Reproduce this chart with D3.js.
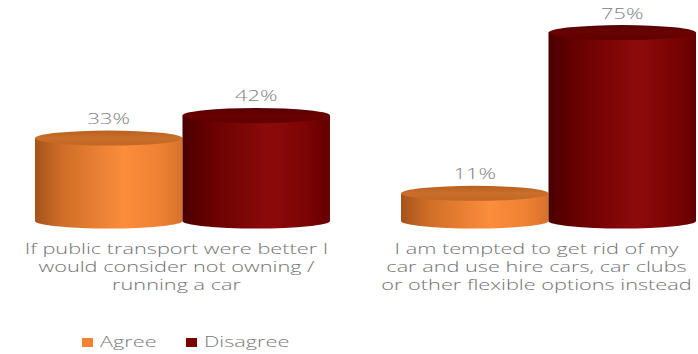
<!DOCTYPE html>
<html>
<head>
<meta charset="utf-8">
<script src="https://cdn.jsdelivr.net/npm/d3@7"></script>
<style>
  body { margin: 0; background: #fff; }
  svg text { font-family: "Open Sans", sans-serif; font-weight: 300; }
</style>
</head>
<body>
<svg width="698" height="354"></svg>
<script>
// survey answers, two statements, agree vs disagree (%)
const categoryLines = [
    ["If public transport were better I", "would consider not owning /", "running a car"],
    ["I am tempted to get rid of my", "car and use hire cars, car clubs", "or other flexible options instead"]
];
const categories = categoryLines.map(l => l.join(" "));
const series = ["Agree", "Disagree"];
const agreeValues = [33, 11];
const disagreeValues = [42, 75];

const svg = d3.select("svg");
const stretch = 1.55; // source picture is stretched sideways

const x0 = d3.scaleBand()
    .domain(categories)
    .range([35, 696])
    .paddingInner(0.194)
    .paddingOuter(0);

const x1 = d3.scaleBand()
    .domain(series)
    .range([0, x0.bandwidth()]);

const y = d3.scaleLinear()
    .domain([0, 80])
    .range([221, 20]);

const color = d3.scaleOrdinal().domain(series).range(["#f08232", "#7a0000"]);

// body gradients (left dark -> light -> slightly dark right)
const defs = svg.append("defs");
const bodyStops = {
    Agree: [[0, "#a4531b"], [0.18, "#cf6d27"], [0.6, "#fb8d3b"], [0.85, "#ee8133"], [1, "#d7722b"]],
    Disagree: [[0, "#4a0000"], [0.2, "#690101"], [0.6, "#8e0a0a"], [0.85, "#7a0303"], [1, "#650000"]]
};
const topStops = {
    Agree: [[0, "#b8601f"], [0.5, "#c96f2a"], [1, "#c06724"]],
    Disagree: [[0, "#560000"], [0.5, "#6a0202"], [1, "#5e0000"]]
};
series.forEach(s => {
    const g = defs.append("linearGradient").attr("id", "body-" + s)
        .attr("x1", 0).attr("x2", 1).attr("y1", 0).attr("y2", 0);
    bodyStops[s].forEach(st => g.append("stop").attr("offset", st[0]).attr("stop-color", st[1]));
    const t = defs.append("linearGradient").attr("id", "top-" + s)
        .attr("x1", 0).attr("x2", 0).attr("y1", 0).attr("y2", 1);
    topStops[s].forEach(st => t.append("stop").attr("offset", st[0]).attr("stop-color", st[1]));
});

const data = categories.map((c, i) => ({
    category: c,
    lines: categoryLines[i],
    values: [
        { key: "Agree", value: agreeValues[i] },
        { key: "Disagree", value: disagreeValues[i] }
    ]
}));

const ry = 7.5;

const groups = svg.selectAll(".group")
    .data(data)
    .enter().append("g")
    .attr("class", "group")
    .attr("transform", d => "translate(" + x0(d.category) + ",0)");

const bars = groups.selectAll(".cyl")
    .data(d => d.values)
    .enter().append("g")
    .attr("class", "cyl");

// cylinder body
bars.append("path")
    .attr("fill", d => "url(#body-" + d.key + ")")
    .attr("d", d => {
        const l = x1(d.key), w = x1.bandwidth(), rx = w / 2;
        const yt = y(d.value), yb = y(0);
        return "M" + l + "," + yt + " L" + l + "," + yb +
            " A" + rx + "," + ry + " 0 0 0 " + (l + w) + "," + yb +
            " L" + (l + w) + "," + yt + " Z";
    });

// cylinder top
bars.append("ellipse")
    .attr("cx", d => x1(d.key) + x1.bandwidth() / 2)
    .attr("cy", d => y(d.value))
    .attr("rx", x1.bandwidth() / 2)
    .attr("ry", ry)
    .attr("fill", d => "url(#top-" + d.key + ")");

// value labels
bars.append("text")
    .attr("transform", d => "translate(" + (x1(d.key) + x1.bandwidth() / 2) + "," + (y(d.value) - 14) + ") scale(" + stretch + ",1)")
    .attr("text-anchor", "middle")
    .style("font-size", "14px")
    .style("fill", "#808080")
    .text(d => d.value + "%");

// category labels
const labelShift = [-6, -12];
groups.each(function (d, gi) {
    const g = d3.select(this);
    d.lines.forEach((line, i) => {
        g.append("text")
            .attr("transform", "translate(" + (x0.bandwidth() / 2 + labelShift[gi]) + "," + (254 + i * 18) + ") scale(" + stretch + ",1)")
            .attr("text-anchor", "middle")
            .style("font-size", "14px")
            .style("fill", "#737373")
            .text(line);
    });
});

// legend
const legendX = [82, 186];
const legend = svg.selectAll(".legend")
    .data(series)
    .enter().append("g")
    .attr("class", "legend")
    .attr("transform", (d, i) => "translate(" + legendX[i] + ",338)");

legend.append("rect")
    .attr("width", 11).attr("height", 9)
    .attr("fill", d => color(d));

legend.append("text")
    .attr("transform", "translate(18,9) scale(" + stretch + ",1)")
    .style("font-size", "14px")
    .style("fill", "#7a7a7a")
    .text(d => d);
</script>
</body>
</html>
